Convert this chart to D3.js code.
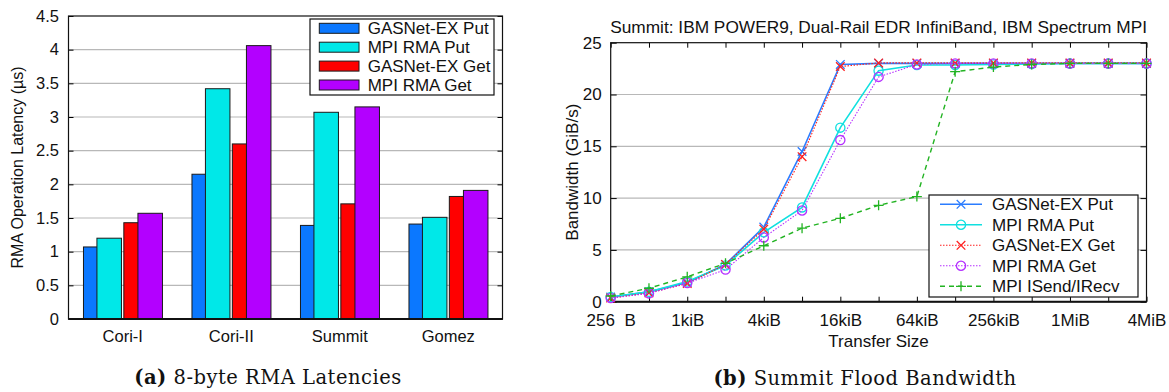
<!DOCTYPE html>
<html>
<head>
<meta charset="utf-8">
<script src="https://cdn.jsdelivr.net/npm/d3@7/dist/d3.min.js"></script>
<style>
body { margin: 0; background: #ffffff; }
svg text { font-family: "Liberation Sans", Arial, sans-serif; fill: #111; }
.cap { font-family: "DejaVu Serif", serif; letter-spacing: 0.5px; }
</style>
</head>
<body>
<div id="cnt"></div>
<script>
let ancho = 1169;
let largo = 392;

// (a) latencias de 8 bytes, en us
let sistemas = ["Cori-I", "Cori-II", "Summit", "Gomez"];
let seriesLat = ["GASNet-EX Put", "MPI RMA Put", "GASNet-EX Get", "MPI RMA Get"];
let gexPutLat = [1.07, 2.15, 1.39, 1.41];
let mpiPutLat = [1.20, 3.42, 3.07, 1.51];
let gexGetLat = [1.43, 2.60, 1.71, 1.82];
let mpiGetLat = [1.57, 4.06, 3.15, 1.91];
let latTicks = [0, 0.5, 1, 1.5, 2, 2.5, 3, 3.5, 4, 4.5];

// (b) ancho de banda Summit, GiB/s
let tamanos = [256, 512, 1024, 2048, 4096, 8192, 16384, 32768, 65536, 131072, 262144, 524288, 1048576, 2097152, 4194304];
let seriesBw = ["GASNet-EX Put", "MPI RMA Put", "GASNet-EX Get", "MPI RMA Get", "MPI ISend/IRecv"];
let gexPutBw = [0.45, 0.95, 1.85, 3.6, 7.2, 14.5, 22.9, 23.0, 23.0, 23.0, 23.0, 23.0, 23.0, 23.0, 23.0];
let mpiPutBw = [0.45, 0.95, 1.95, 3.5, 6.7, 9.1, 16.8, 22.3, 22.85, 22.85, 22.9, 22.95, 23.0, 23.0, 23.0];
let gexGetBw = [0.35, 0.85, 1.75, 3.6, 7.0, 14.0, 22.7, 23.05, 23.05, 23.05, 23.05, 23.05, 23.05, 23.05, 23.05];
let mpiGetBw = [0.35, 0.8, 1.8, 3.1, 6.2, 8.8, 15.6, 21.7, 22.9, 23.0, 23.0, 23.0, 23.0, 23.0, 23.0];
let isendBw = [0.55, 1.3, 2.4, 3.7, 5.4, 7.1, 8.05, 9.3, 10.15, 22.2, 22.65, 22.9, 23.0, 23.0, 23.0];
let bwTicks = [0, 5, 10, 15, 20, 25];
let tamTicks = [256, 1024, 4096, 16384, 65536, 262144, 1048576, 4194304];
let tamLabels = ["256  B", "1kiB", "4kiB", "16kiB", "64kiB", "256kiB", "1MiB", "4MiB"];

let svg = d3.select('#cnt')
    .append("svg")
    .attr('width', ancho)
    .attr('height', largo)

//////////////// (a) barras
let xA = d3.scaleBand().domain(sistemas).range([68.5, 502.5]);
let yA = d3.scaleLinear().domain([0, 4.5]).range([319, 16]);
let colLat = d3.scaleOrdinal().domain(seriesLat).range(["#0b78ff", "#00e8e8", "#ff0000", "#b300ff"]);
// desplazamiento de cada barra dentro del grupo (fraccion de banda)
let offLat = d3.scaleOrdinal().domain(seriesLat).range([0.138, 0.262, 0.51, 0.64]);
let anchoBarra = xA.bandwidth() * 0.226;

let gA = svg.append("g");

gA.selectAll("line.grid")
    .data(latTicks.filter(d => d > 0 && d < 4.5)).enter()
    .append("line")
    .attr("x1", xA.range()[0]).attr("x2", xA.range()[1])
    .attr("y1", d => yA(d)).attr("y2", d => yA(d))
    .style("stroke", "#b8b8b8")
    .style("stroke-width", 1.2)

let valLat = [gexPutLat, mpiPutLat, gexGetLat, mpiGetLat];
seriesLat.forEach(function (s, j) {
    gA.append("g").selectAll("rect")
        .data(sistemas.map((c, i) => ({ c: c, v: valLat[j][i] }))).enter()
        .append("rect")
        .attr("x", d => xA(d.c) + offLat(s) * xA.bandwidth())
        .attr("y", d => yA(d.v))
        .attr("width", anchoBarra)
        .attr("height", d => yA(0) - yA(d.v))
        .style("fill", colLat(s))
        .style("stroke", "#1a1a1a")
        .style("stroke-width", 1)
});

// ejes
gA.append("g")
    .attr("transform", "translate(" + xA.range()[0] + ",0)")
    .call(d3.axisLeft(yA).tickValues(latTicks).tickFormat(d => String(d)).tickSize(-5).tickPadding(9.5))
    .call(g => g.select(".domain").remove())
    .call(g => g.selectAll("text").style("font-size", "16.5px"))
gA.append("g")
    .attr("transform", "translate(" + xA.range()[1] + ",0)")
    .call(d3.axisRight(yA).tickValues(latTicks).tickFormat("").tickSize(-5))
    .call(g => g.select(".domain").remove())
gA.append("g")
    .attr("transform", "translate(0," + yA(0) + ")")
    .call(d3.axisBottom(xA).tickSize(0).tickPadding(11.5))
    .call(g => g.select(".domain").remove())
    .call(g => g.selectAll("text").style("font-size", "16.5px"))

gA.append("rect")
    .attr("x", xA.range()[0]).attr("y", yA(4.5))
    .attr("width", xA.range()[1] - xA.range()[0])
    .attr("height", yA(0) - yA(4.5))
    .style("fill", "none").style("stroke", "#111").style("stroke-width", 1.2)
gA.append("line")
    .attr("x1", xA.range()[0]).attr("x2", xA.range()[1])
    .attr("y1", yA(0)).attr("y2", yA(0))
    .style("stroke", "#111").style("stroke-width", 2)

gA.append("text")
    .attr("transform", "translate(23," + (yA(0) + yA(4.5)) / 2 + ") rotate(-90)")
    .attr("text-anchor", "middle")
    .style("font-size", "16px")
    .text("RMA Operation Latency (µs)")

// leyenda (a)
let legA = gA.append("g").attr("transform", "translate(310,19)");
legA.append("rect")
    .attr("width", 184).attr("height", 76)
    .style("fill", "#fff").style("stroke", "#111").style("stroke-width", 1.2)
let filaA = legA.selectAll("g.fila").data(seriesLat).enter()
    .append("g")
    .attr("transform", (d, i) => "translate(0," + (9.3 + i * 18.9) + ")")
filaA.append("rect")
    .attr("x", 9.3).attr("y", -5).attr("width", 39.7).attr("height", 10)
    .style("fill", d => colLat(d)).style("stroke", "#1a1a1a")
filaA.append("text")
    .attr("x", 57.7).attr("dy", "0.35em")
    .style("font-size", "17px")
    .text(d => d)

svg.append("text")
    .attr("class", "cap")
    .attr("x", 268).attr("y", 384)
    .attr("text-anchor", "middle")
    .style("font-size", "19.5px")
    .html('<tspan font-weight="bold">(a)</tspan> 8-byte RMA Latencies')

//////////////// (b) lineas
let xB = d3.scaleLog().base(2).domain([256, 4194304]).range([610.7, 1146.5]);
let yB = d3.scaleLinear().domain([0, 25]).range([301.7, 42.7]);
let colBw = d3.scaleOrdinal().domain(seriesBw).range(["#2b7cff", "#10e0e0", "#ff2020", "#b530ff", "#22b322"]);
let dashBw = d3.scaleOrdinal().domain(seriesBw).range(["none", "none", "1.5,1.5", "1.5,1.5", "5,4"]);
let anchoBw = d3.scaleOrdinal().domain(seriesBw).range([1.6, 1.6, 1.1, 1.1, 1.4]);
let marcaBw = d3.scaleOrdinal().domain(seriesBw).range(["x", "o", "x", "o", "+"]);

let gB = svg.append("g");

gB.selectAll("line.grid")
    .data(bwTicks.filter(d => d > 0 && d < 25)).enter()
    .append("line")
    .attr("x1", xB.range()[0]).attr("x2", xB.range()[1])
    .attr("y1", d => yB(d)).attr("y2", d => yB(d))
    .style("stroke", "#b8b8b8")
    .style("stroke-width", 1.2)

gB.append("g")
    .attr("transform", "translate(" + xB.range()[0] + ",0)")
    .call(d3.axisLeft(yB).tickValues(bwTicks).tickSize(-6).tickPadding(9))
    .call(g => g.select(".domain").remove())
    .call(g => g.selectAll("text").style("font-size", "17px"))
gB.append("g")
    .attr("transform", "translate(" + xB.range()[1] + ",0)")
    .call(d3.axisRight(yB).tickValues(bwTicks).tickFormat("").tickSize(-6))
    .call(g => g.select(".domain").remove())
gB.append("g")
    .attr("transform", "translate(0," + yB(0) + ")")
    .call(d3.axisBottom(xB).tickValues(tamanos).tickFormat("").tickSize(-5))
    .call(g => g.select(".domain").remove())
gB.append("g")
    .attr("transform", "translate(0," + yB(25) + ")")
    .call(d3.axisTop(xB).tickValues(tamanos).tickFormat("").tickSize(-5))
    .call(g => g.select(".domain").remove())
gB.append("g")
    .attr("transform", "translate(0," + yB(0) + ")")
    .call(d3.axisBottom(xB).tickValues(tamTicks).tickFormat((d, i) => tamLabels[i]).tickSize(0).tickPadding(12))
    .call(g => g.select(".domain").remove())
    .call(g => g.selectAll("text").style("font-size", "17px").style("white-space", "pre"))

gB.append("rect")
    .attr("x", xB.range()[0]).attr("y", yB(25))
    .attr("width", xB.range()[1] - xB.range()[0])
    .attr("height", yB(0) - yB(25))
    .style("fill", "none").style("stroke", "#111").style("stroke-width", 1.2)
gB.append("line")
    .attr("x1", xB.range()[0]).attr("x2", xB.range()[1])
    .attr("y1", yB(0)).attr("y2", yB(0))
    .style("stroke", "#111").style("stroke-width", 2)

function marca(sel, tipo) {
    if (tipo === "o") {
        sel.append("circle").attr("r", 4.6).style("fill", "none");
    } else if (tipo === "x") {
        sel.append("path").attr("d", "M-4.3,-4.3L4.3,4.3M-4.3,4.3L4.3,-4.3");
    } else {
        sel.append("path").attr("d", "M-5,0H5M0,-5V5");
    }
}

let linea = d3.line().x(d => xB(d.t)).y(d => yB(d.v));
let valBw = [gexPutBw, mpiPutBw, gexGetBw, mpiGetBw, isendBw];
seriesBw.forEach(function (s, j) {
    let pts = tamanos.map((t, i) => ({ t: t, v: valBw[j][i] }));
    let g = gB.append("g")
        .style("stroke", colBw(s))
        .style("fill", "none")
    g.append("path")
        .attr("d", linea(pts))
        .style("stroke-width", anchoBw(s))
        .style("stroke-dasharray", dashBw(s))
    g.selectAll("g.pt").data(pts).enter()
        .append("g")
        .attr("transform", d => "translate(" + xB(d.t) + "," + yB(d.v) + ")")
        .style("stroke-width", 1.3)
        .each(function () { marca(d3.select(this), marcaBw(s)); })
});

gB.append("text")
    .attr("x", (xB.range()[0] + xB.range()[1]) / 2).attr("y", 32.7)
    .attr("text-anchor", "middle")
    .style("font-size", "17.3px")
    .text("Summit: IBM POWER9, Dual-Rail EDR InfiniBand, IBM Spectrum MPI")
gB.append("text")
    .attr("x", (xB.range()[0] + xB.range()[1]) / 2).attr("y", 346.7)
    .attr("text-anchor", "middle")
    .style("font-size", "17px")
    .text("Transfer Size")
gB.append("text")
    .attr("transform", "translate(578," + (yB(0) + yB(25)) / 2 + ") rotate(-90)")
    .attr("text-anchor", "middle")
    .style("font-size", "17px")
    .text("Bandwidth (GiB/s)")

// leyenda (b)
let legB = gB.append("g").attr("transform", "translate(929,195)");
legB.append("rect")
    .attr("width", 209).attr("height", 102)
    .style("fill", "#fff").style("stroke", "#111").style("stroke-width", 1.2)
let filaB = legB.selectAll("g.fila").data(seriesBw).enter()
    .append("g")
    .attr("transform", (d, i) => "translate(0," + (9.3 + i * 20.5) + ")")
filaB.append("line")
    .attr("x1", 11).attr("x2", 53)
    .style("stroke", d => colBw(d))
    .style("stroke-width", d => anchoBw(d))
    .style("stroke-dasharray", d => dashBw(d))
filaB.append("g")
    .attr("transform", "translate(32,0)")
    .style("stroke", d => colBw(d))
    .style("fill", "none")
    .style("stroke-width", 1.3)
    .each(function (d) { marca(d3.select(this), marcaBw(d)); })
filaB.append("text")
    .attr("x", 63).attr("dy", "0.35em")
    .style("font-size", "17px")
    .text(d => d)

svg.append("text")
    .attr("class", "cap")
    .attr("x", 865).attr("y", 385)
    .attr("text-anchor", "middle")
    .style("font-size", "19.5px")
    .html('<tspan font-weight="bold">(b)</tspan> Summit Flood Bandwidth')
</script>
</body>
</html>
